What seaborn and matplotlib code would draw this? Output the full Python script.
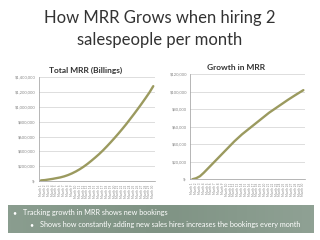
import matplotlib
matplotlib.use("Agg")
import matplotlib.pyplot as plt
import seaborn as sns
import numpy as np

# data
months = list(range(1, 31))
month_labels = ["Month %d" % m for m in months]
total_mrr = [8000, 12000, 20000, 28000, 38000, 48000, 62000, 80000, 102000, 128000,
             158000, 192000, 230000, 272000, 316000, 362000, 412000, 466000, 522000, 580000,
             640000, 702000, 766000, 834000, 902000, 972000, 1044000, 1118000, 1194000, 1280000]
growth_mrr = [0, 1200, 3500, 7500, 12000, 16500, 21000, 25500, 30000, 34500,
              39000, 43500, 47500, 51500, 55000, 58500, 62000, 65500, 69000, 72500,
              76000, 79000, 82000, 85000, 88000, 91000, 93800, 96600, 99300, 102000]
total_ticks = [0, 200000, 400000, 600000, 800000, 1000000, 1200000, 1400000]
growth_ticks = [0, 20000, 40000, 60000, 80000, 100000, 120000]

sns.set_style("white")
plt.rcParams['font.family'] = ['Lato', 'DejaVu Sans']

line_col = "#9b9a5f"
fig = plt.figure(figsize=(3.2, 2.4), dpi=100)
fig.patch.set_facecolor("white")

fig.text(0.5, 0.925, "How MRR Grows when hiring 2", ha="center", va="center",
         fontsize=12, color="#333333")
fig.text(0.5, 0.835, "salespeople per month", ha="center", va="center",
         fontsize=12, color="#333333")


def money(v):
    return "$-" if v == 0 else "${:,.0f}".format(v)


def draw(ax, y, ticks, title):
    sns.lineplot(x=months, y=y, ax=ax, color=line_col, linewidth=1.7)
    ax.set_xlim(0.5, 30.5)
    ax.set_ylim(ticks[0], ticks[-1])
    ax.set_yticks(ticks)
    ax.set_yticklabels([money(t) for t in ticks], fontsize=3, color="#555555")
    ax.set_xticks(months)
    ax.set_xticklabels(month_labels, rotation=90, fontsize=2.2, color="#555555")
    ax.tick_params(length=1, width=0.4, pad=1.5, colors="#888888")
    ax.grid(axis="y", color="#d0d0d0", linewidth=0.5)
    ax.set_axisbelow(True)
    for s in ["top", "right"]:
        ax.spines[s].set_visible(False)
    for s in ["left", "bottom"]:
        ax.spines[s].set_color("#999999")
        ax.spines[s].set_linewidth(0.5)
    # chart title is centred over the whole chart area, labels included
    ax.set_title(title, fontsize=6, fontweight="bold", color="#333333", pad=3, x=0.4)


ax1 = fig.add_axes([0.122, 0.246, 0.363, 0.432])
draw(ax1, total_mrr, total_ticks, "Total MRR (Billings)")
ax2 = fig.add_axes([0.595, 0.253, 0.359, 0.437])
draw(ax2, growth_mrr, growth_ticks, "Growth in MRR")

# caption box at the bottom
box = fig.add_axes([0.025, 0.03, 0.955, 0.115])
grad = np.linspace(0, 1, 100).reshape(1, -1)
box.imshow(grad, aspect="auto", cmap=matplotlib.colors.LinearSegmentedColormap.from_list(
    "g", ["#8a9d8f", "#7f9384", "#8fa194"]), extent=[0, 1, 0, 1])
box.set_axis_off()
box.text(0.015, 0.72, "\u2022", color="white", fontsize=5, va="center")
box.text(0.05, 0.72, "Tracking growth in MRR shows new bookings", color="white",
         fontsize=5.2, va="center")
box.text(0.07, 0.3, "\u2022", color="white", fontsize=5, va="center")
box.text(0.105, 0.3, "Shows how constantly adding new sales hires increases the bookings every month",
         color="white", fontsize=5.2, va="center")

fig.savefig("out.png", dpi=100)
